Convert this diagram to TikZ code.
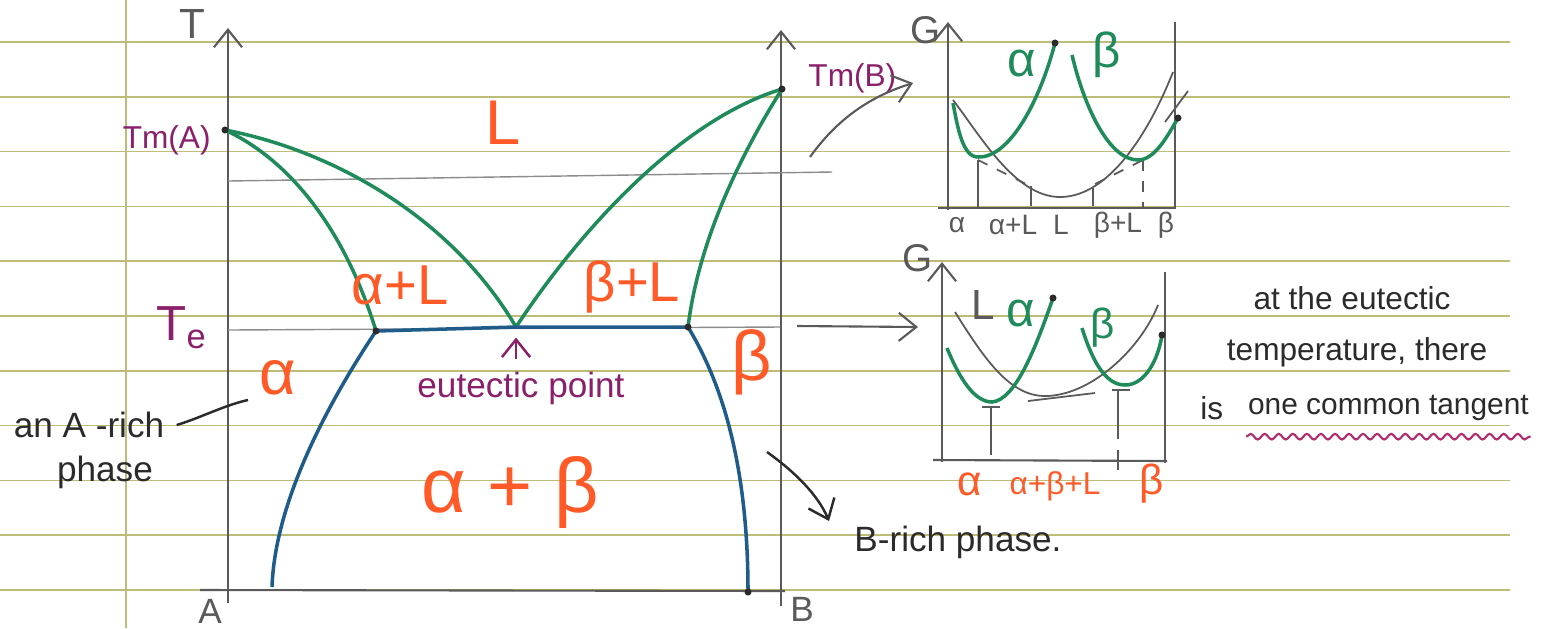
\documentclass[tikz,border=0pt]{standalone}
\usepackage{fontspec}
\setmainfont{Liberation Sans}
\usepackage{tikz}
\usetikzlibrary{arrows.meta,positioning,decorations.pathmorphing}
\definecolor{PhaseRule}{HTML}{BDBD78}
\definecolor{PhaseInk}{HTML}{2B2B2B}
\definecolor{PhaseAxis}{HTML}{5A5A5A}
\definecolor{PhaseGuide}{HTML}{8C8C8C}
\definecolor{PhaseGreen}{HTML}{1F8A5A}
\definecolor{PhaseBlue}{HTML}{1F5C8A}
\definecolor{PhaseOrange}{HTML}{FF5A28}
\definecolor{PhasePurple}{HTML}{8A1F6A}
\definecolor{PhaseWave}{HTML}{B02C6E}

\tikzset{
  ruleline/.style={PhaseRule,line width=0.45pt},
  axisline/.style={PhaseAxis,line width=0.6pt},
  guideline/.style={PhaseGuide,line width=0.4pt},
  liquidus/.style={PhaseGreen,line width=1pt},
  solvus/.style={PhaseBlue,line width=1pt},
  gcurve/.style={PhaseAxis,line width=0.5pt},
  leader/.style={PhaseInk,line width=0.7pt},
  axislabel/.style={text=PhaseAxis,font=\fontsize{12}{14}\selectfont},
  tmlabel/.style={text=PhasePurple,font=\fontsize{9}{11}\selectfont},
  phaselabel/.style={text=PhaseOrange,font=\fontsize{16}{18}\selectfont},
  notelabel/.style={text=PhaseInk,font=\fontsize{9}{11}\selectfont},
  ticklabel/.style={text=PhaseAxis,font=\fontsize{8}{9}\selectfont},
}

\begin{document}
\begin{tikzpicture}[x=0.1mm,y=-0.1mm,>={Straight Barb[length=5pt,width=8pt]}]
  \useasboundingbox (0,0) rectangle (1544,628);
  \fill[white] (0,0) rectangle (1544,628);
  % ruled paper
  \foreach \k in {0,...,10}
    \draw[ruleline] (0,42+54.8*\k) -- (1510,42+54.8*\k);
  \draw[ruleline] (126,0) -- (126,628);

  % T-x phase diagram
  \draw[axisline,->] (228,603) -- (228,28);
  \draw[axisline,->] (781,606) -- (781,30);
  \draw[axisline] (200,590) -- (785,591);
  \node[axislabel] (Tlab) at (192,24) {T};
  \node[axislabel,font=\fontsize{10}{12}\selectfont] (Alab) at (210,611) {A};
  \node[axislabel,font=\fontsize{10}{12}\selectfont] (Blab) at (802,609) {B};
  \draw[guideline] (228,181) -- (832,172);
  \draw[guideline] (228,330) -- (780,327);

  \coordinate (TmA) at (225,130);
  \coordinate (TmB) at (782,89);
  \coordinate (eut) at (516,327);
  \coordinate (solA) at (376,331);
  \coordinate (solB) at (688,327);
  \coordinate (baseA) at (272,587);
  \coordinate (baseB) at (748,592);

  \draw[liquidus] (TmA) .. controls (330,150) and (450,215) .. (eut);
  \draw[liquidus] (TmA) .. controls (290,160) and (345,230) .. (solA);
  \draw[liquidus] (eut) .. controls (580,230) and (680,120) .. (TmB);
  \draw[liquidus] (TmB) .. controls (750,140) and (700,230) .. (solB);
  \draw[solvus] (solA) -- (eut) -- (solB);
  \draw[solvus] (solA) .. controls (330,400) and (275,500) .. (baseA);
  \draw[solvus] (solB) .. controls (720,380) and (748,460) .. (baseB);
  \foreach \p in {TmA,TmB,solA,solB,baseB}
    \fill[PhaseInk] (\p) circle (1pt);

  \node[tmlabel,anchor=east] (TmAlab) at (223,140) {Tm(A)};
  \node[tmlabel,anchor=west] (TmBlab) at (796,78) {Tm(B)};
  \node[tmlabel,font=\fontsize{14}{16}\selectfont] (Telab) at (182,328) {T\textsubscript{e}};

  \node[phaselabel,font=\fontsize{18}{20}\selectfont] (Lfield) at (503,123) {L};
  \node[phaselabel] (aLfield) at (400,285) {α+L};
  \node[phaselabel] (bLfield) at (632,287) {β+L};
  \node[phaselabel,font=\fontsize{18}{20}\selectfont] (afield) at (278,378) {α};
  \node[phaselabel,font=\fontsize{20}{22}\selectfont] (bfield) at (752,362) {β};
  \node[phaselabel,font=\fontsize{22}{24}\selectfont] (abfield) at (510,492) {α + β};

  \node[tmlabel,font=\fontsize{10}{12}\selectfont] (eutlab) at (521,388) {eutectic point};
  \draw[PhasePurple,line width=0.7pt,->] (eutlab.north -| eut) -- ([yshift=-3pt]eut);

  \node[notelabel,font=\fontsize{10}{12}\selectfont] (Arich) at (89,425) {an A -rich};
  \node[notelabel,font=\fontsize{10}{12}\selectfont] (Aphase) at (105,472) {phase};
  \coordinate (Atip) at (248,400);
  \draw[leader] (Arich.east) .. controls (200,418) and (225,405) .. (Atip);

  \node[notelabel,font=\fontsize{10}{12}\selectfont,anchor=west] (Brich) at (842,542) {B-rich phase.};
  \coordinate (Btail) at (767,452);
  \coordinate (Btip) at (829,521);
  \draw[leader,->] (Btail) .. controls (795,472) and (818,495) .. (Btip);

  % arrows to the G plots
  \coordinate (fromTm) at (810,157);
  \coordinate (toG1) at (913,83);
  \draw[axisline,->] (fromTm) .. controls (840,115) and (875,95) .. (toG1);
  \coordinate (fromTe) at (797,326);
  \coordinate (toG2) at (918,327);
  \draw[axisline,->] (fromTe) -- (toG2);

  % G plot above the eutectic
  \draw[axisline,->] (948,210) -- (948,22);
  \draw[axisline] (1175,22) -- (1175,208);
  \draw[axisline] (938,208) -- (1176,208);
  \node[axislabel,font=\fontsize{11}{13}\selectfont] (G1lab) at (926,30) {G};
  \draw[gcurve] (953,100) .. controls (980,135) and (1015,197) .. (1060,197)
    .. controls (1110,197) and (1150,130) .. (1173,72);
  \draw[gcurve,dashed] (978,160) -- (1032,187);
  \draw[gcurve,dashed] (1095,184) -- (1147,158);
  \draw[gcurve] (1165,122) -- (1188,91);
  \draw[gcurve] (978,160) -- (978,208);
  \draw[gcurve] (1031,186) -- (1031,206);
  \draw[gcurve] (1093,188) -- (1093,206);
  \draw[gcurve,dashed] (1143,160) -- (1143,208);
  \draw[liquidus] (953,103) .. controls (958,130) and (963,157) .. (978,157)
    .. controls (1010,158) and (1040,100) .. (1055,43);
  \draw[liquidus] (1072,55) .. controls (1085,110) and (1110,160) .. (1138,160)
    .. controls (1155,160) and (1168,135) .. (1178,118);
  \fill[PhaseInk] (1055,43) circle (1pt);
  \fill[PhaseInk] (1178,118) circle (1pt);
  \node[text=PhaseGreen,font=\fontsize{14}{16}\selectfont] (G1a) at (1022,63) {α};
  \node[text=PhaseGreen,font=\fontsize{14}{16}\selectfont] (G1b) at (1107,55) {β};
  \node[ticklabel] (G1t1) at (957,225) {α};
  \node[ticklabel] (G1t2) at (1013,225) {α+L};
  \node[ticklabel] (G1t3) at (1061,225) {L};
  \node[ticklabel] (G1t4) at (1118,225) {β+L};
  \node[ticklabel] (G1t5) at (1166,225) {β};

  % G plot at the eutectic temperature
  \draw[axisline,->] (942,462) -- (942,262);
  \draw[axisline] (1165,272) -- (1165,463);
  \draw[axisline] (933,460) -- (1167,461);
  \node[axislabel,font=\fontsize{11}{13}\selectfont] (G2lab) at (918,258) {G};
  \draw[gcurve] (955,312) .. controls (985,360) and (1010,396) .. (1045,396)
    .. controls (1090,396) and (1140,350) .. (1158,305);
  \draw[gcurve] (982,407) -- (1000,407);
  \draw[gcurve] (1028,401) -- (1095,393);
  \draw[gcurve] (1112,390) -- (1130,390);
  \draw[gcurve,dash pattern=on 14pt off 3pt] (991,407) -- (991,455);
  \draw[gcurve,dash pattern=on 14pt off 3pt] (1118,390) -- (1118,470);
  \draw[liquidus] (947,348) .. controls (960,380) and (975,402) .. (992,402)
    .. controls (1015,400) and (1035,350) .. (1053,298);
  \draw[liquidus] (1082,328) .. controls (1092,360) and (1105,385) .. (1125,385)
    .. controls (1145,385) and (1158,360) .. (1162,335);
  \fill[PhaseInk] (1053,298) circle (1pt);
  \fill[PhaseInk] (1162,335) circle (1pt);
  \node[axislabel] (G2L) at (983,305) {L};
  \node[text=PhaseGreen,font=\fontsize{14}{16}\selectfont] (G2a) at (1021,313) {α};
  \node[text=PhaseGreen,font=\fontsize{12}{14}\selectfont] (G2b) at (1103,328) {β};
  \node[text=PhaseOrange,font=\fontsize{12}{14}\selectfont] (G2t1) at (970,484) {α};
  \node[text=PhaseOrange,font=\fontsize{9}{10}\selectfont] (G2t2) at (1055,486) {α+β+L};
  \node[text=PhaseOrange,font=\fontsize{12}{14}\selectfont] (G2t3) at (1152,484) {β};

  % note
  \node[notelabel] (note1) at (1352,298) {at the eutectic};
  \node[notelabel] (note2) at (1357,352) {temperature, there};
  \node[notelabel,anchor=west] (note3) at (1188,408) {is};
  \node[notelabel,font=\fontsize{8.5}{10}\selectfont,right=0pt of note3] (note4) {one common tangent};
  \draw[PhaseWave,line width=0.6pt,decorate,
    decoration={snake,amplitude=0.8pt,segment length=4pt}]
    ([xshift=3pt,yshift=-1pt]note4.south west) -- ([xshift=-3pt,yshift=-1pt]note4.south east);
\end{tikzpicture}
\end{document}
